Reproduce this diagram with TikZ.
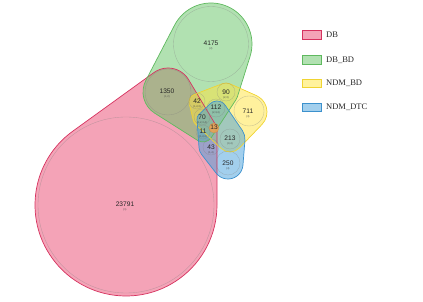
\documentclass[tikz,border=0pt]{standalone}
\usepackage{fontspec}
\setmainfont{Liberation Serif}
\newfontfamily\numfont{Liberation Sans}
\definecolor{pinkF}{RGB}{233,71,111}
\definecolor{pinkD}{RGB}{214,50,95}
\definecolor{greenF}{RGB}{100,195,100}
\definecolor{greenD}{RGB}{95,185,95}
\definecolor{yellowF}{RGB}{255,228,60}
\definecolor{yellowD}{RGB}{240,212,50}
\definecolor{blueF}{RGB}{70,160,220}
\definecolor{blueD}{RGB}{60,145,205}
\definecolor{orangeF}{RGB}{240,160,80}
% outward tangent angle for CCW hull edge from circle 1 to circle 2
\newcommand\tang[7]{%
  \pgfmathsetmacro\tdx{#4-#1}%
  \pgfmathsetmacro\tdy{#5-#2}%
  \pgfmathsetmacro\tL{veclen(\tdx,\tdy)}%
  \pgfmathsetmacro\tth{atan2(\tdy,\tdx)}%
  \pgfmathsetmacro\tph{acos((#3-#6)/\tL)}%
  \pgfmathsetmacro#7{\tth-\tph}%
}
\newcommand\dang[3]{\pgfmathsetmacro#3{mod((#2)-(#1)+720,360)}}
\newcommand\harc[5]{-- ([shift={(#4:#3pt)}]#1,#2) arc[start angle=#4, delta angle=#5, radius=#3pt]}
\begin{document}
\begin{tikzpicture}[x=1pt,y=1pt,
  gcirc/.style={draw=black!50, line width=0.35pt, draw opacity=0.45},
  num/.style={font=\numfont\fontsize{6.6}{7}\selectfont, text=black!85, inner sep=0},
  sublbl/.style={font=\numfont\fontsize{2.6}{3}\selectfont, text=black!70, inner sep=0},
  legbox/.style={minimum width=19pt, minimum height=8.5pt, inner sep=0, line width=0.6pt},
  legtxt/.style={font=\fontsize{8.5}{10}\selectfont, anchor=west, inner sep=0, text=black!85},
  outl/.style={line width=0.7pt}]
\useasboundingbox (0,0) rectangle (423,302);
% ---------- pink (DB): B, c13, A
\tang{126}{97}{91}{214}{174}{3}{\hPa}
\tang{214}{174}{3}{168}{210}{24}{\hPb}
\tang{168}{210}{24}{126}{97}{91}{\hPc}
\dang{\hPc}{\hPa}{\hPdB}
\dang{\hPa}{\hPb}{\hPdC}
\dang{\hPb}{\hPc}{\hPdA}
\def\pinkpath{([shift={(\hPc:91pt)}]126,97) arc[start angle=\hPc, delta angle=\hPdB, radius=91pt]
  \harc{214}{174}{3}{\hPa}{\hPdC} \harc{168}{210}{24}{\hPb}{\hPdA} -- cycle}
% ---------- green (DB_BD): G, A, c11, c90
\tang{211}{258}{41}{168}{210}{25}{\hGa}
\tang{168}{210}{25}{203}{170}{10}{\hGb}
\tang{203}{170}{10}{226}{209}{12}{\hGc}
\tang{226}{209}{12}{211}{258}{41}{\hGd}
\dang{\hGd}{\hGa}{\hGdG}
\dang{\hGa}{\hGb}{\hGdA}
\dang{\hGb}{\hGc}{\hGdE}
\dang{\hGc}{\hGd}{\hGdN}
\def\greenpath{([shift={(\hGd:41pt)}]211,258) arc[start angle=\hGd, delta angle=\hGdG, radius=41pt]
  \harc{168}{210}{25}{\hGa}{\hGdA} \harc{203}{170}{10}{\hGb}{\hGdE} \harc{226}{209}{12}{\hGc}{\hGdN} -- cycle}
% ---------- yellow (NDM_BD): 711, 90, 42, 70, 213
\tang{249}{190}{18}{226}{209}{10}{\hYa}
\tang{226}{209}{10}{197}{200}{8}{\hYb}
\tang{197}{200}{8}{202}{184}{9}{\hYc}
\tang{202}{184}{9}{230}{163}{13}{\hYd}
\tang{230}{163}{13}{249}{190}{18}{\hYe}
\dang{\hYe}{\hYa}{\hYdA}
\dang{\hYa}{\hYb}{\hYdB}
\dang{\hYb}{\hYc}{\hYdC}
\dang{\hYc}{\hYd}{\hYdD}
\dang{\hYd}{\hYe}{\hYdE}
\def\yellowpath{([shift={(\hYe:18pt)}]249,190) arc[start angle=\hYe, delta angle=\hYdA, radius=18pt]
  \harc{226}{209}{10}{\hYa}{\hYdB} \harc{197}{200}{8}{\hYb}{\hYdC} \harc{202}{184}{9}{\hYc}{\hYdD}
  \harc{230}{163}{13}{\hYd}{\hYdE} -- cycle}
% ---------- blue (NDM_DTC): 250, 213, 112, 70, 43
\tang{228}{138}{15}{230}{163}{15}{\hBa}
\tang{230}{163}{15}{217}{191}{10}{\hBb}
\tang{217}{191}{10}{203}{183}{6}{\hBc}
\tang{203}{183}{6}{211}{155}{12}{\hBd}
\tang{211}{155}{12}{228}{138}{15}{\hBe}
\dang{\hBe}{\hBa}{\hBdA}
\dang{\hBa}{\hBb}{\hBdB}
\dang{\hBb}{\hBc}{\hBdC}
\dang{\hBc}{\hBd}{\hBdD}
\dang{\hBd}{\hBe}{\hBdE}
\def\bluepath{([shift={(\hBe:15pt)}]228,138) arc[start angle=\hBe, delta angle=\hBdA, radius=15pt]
  \harc{230}{163}{15}{\hBa}{\hBdB} \harc{217}{191}{10}{\hBb}{\hBdC} \harc{203}{183}{6}{\hBc}{\hBdD}
  \harc{211}{155}{12}{\hBd}{\hBdE} -- cycle}
% ---------- fills
\fill[pinkF, fill opacity=0.5] \pinkpath;
\fill[greenF, fill opacity=0.5] \greenpath;
\fill[yellowF, fill opacity=0.5] \yellowpath;
\fill[blueF, fill opacity=0.5] \bluepath;
% ---------- outlines
\draw[outl, pinkD] \pinkpath;
\draw[outl, greenD] \greenpath;
\draw[outl, yellowD] \yellowpath;
\draw[outl, blueD] \bluepath;
% ---------- inner grey circles
\draw[gcirc] (126,97) circle[radius=88pt];
\draw[gcirc] (211,258) circle[radius=37.5pt];
\draw[gcirc] (168,210) circle[radius=23pt];
\draw[gcirc] (249,191) circle[radius=15pt];
\draw[gcirc] (226,210) circle[radius=9pt];
\draw[gcirc] (197,201) circle[radius=8pt];
\draw[gcirc] (216,194) circle[radius=9pt];
\draw[gcirc] (202,185) circle[radius=8pt];
\draw[gcirc] (203,170) circle[radius=7pt];
\draw[gcirc] (211,155) circle[radius=8pt];
\draw[gcirc] (230,163) circle[radius=10pt];
\draw[gcirc] (228,139) circle[radius=12pt];
\fill[orangeF, fill opacity=0.85, draw=orangeF!80!black, draw opacity=0.6, line width=0.3pt] (214,174) circle[radius=5pt];
% ---------- labels
\node[num] (n1) at (125,98) {23791};   \node[sublbl] (s1) at (125,92) {(1)};
\node[num] (n2) at (211,259) {4175};   \node[sublbl] (s2) at (211,253) {(2)};
\node[num] (n3) at (167,211) {1350};   \node[sublbl] (s3) at (167,205) {(1,2)};
\node[num] (n4) at (248,191) {711};    \node[sublbl] (s4) at (248,185) {(3)};
\node[num] (n5) at (226,210) {90};     \node[sublbl] (s5) at (226,204) {(2,3)};
\node[num] (n6) at (197,201) {42};     \node[sublbl] (s6) at (197,195) {(1,2,3)};
\node[num] (n7) at (216,195) {112};    \node[sublbl] (s7) at (216,189) {(2,3,4)};
\node[num] (n8) at (202,185) {70};     \node[sublbl] (s8) at (202,179) {(1,2,3,4)};
\node[num] (n9) at (203,171) {11};     \node[sublbl] (s9) at (203,165) {(1,2,4)};
\node[num] (n10) at (214,175) {13};
\node[num] (n11) at (211,155) {43};    \node[sublbl] (s11) at (211,149) {(1,4)};
\node[num] (n12) at (230,164) {213};   \node[sublbl] (s12) at (230,158) {(3,4)};
\node[num] (n13) at (228,139) {250};   \node[sublbl] (s13) at (228,133) {(4)};
% ---------- legend
\node[legbox, fill=pinkF!50, draw=pinkD] (lb1) at (311.5,267) {};
\node[legtxt] (lt1) at (326,267) {DB};
\node[legbox, fill=greenF!50, draw=greenD] (lb2) at (311.5,242) {};
\node[legtxt] (lt2) at (326,242) {DB\_BD};
\node[legbox, fill=yellowF!50, draw=yellowD] (lb3) at (311.5,218.5) {};
\node[legtxt] (lt3) at (326,218.5) {NDM\_BD};
\node[legbox, fill=blueF!50, draw=blueD] (lb4) at (311.5,194.5) {};
\node[legtxt] (lt4) at (326,194.5) {NDM\_DTC};
\end{tikzpicture}
\end{document}
